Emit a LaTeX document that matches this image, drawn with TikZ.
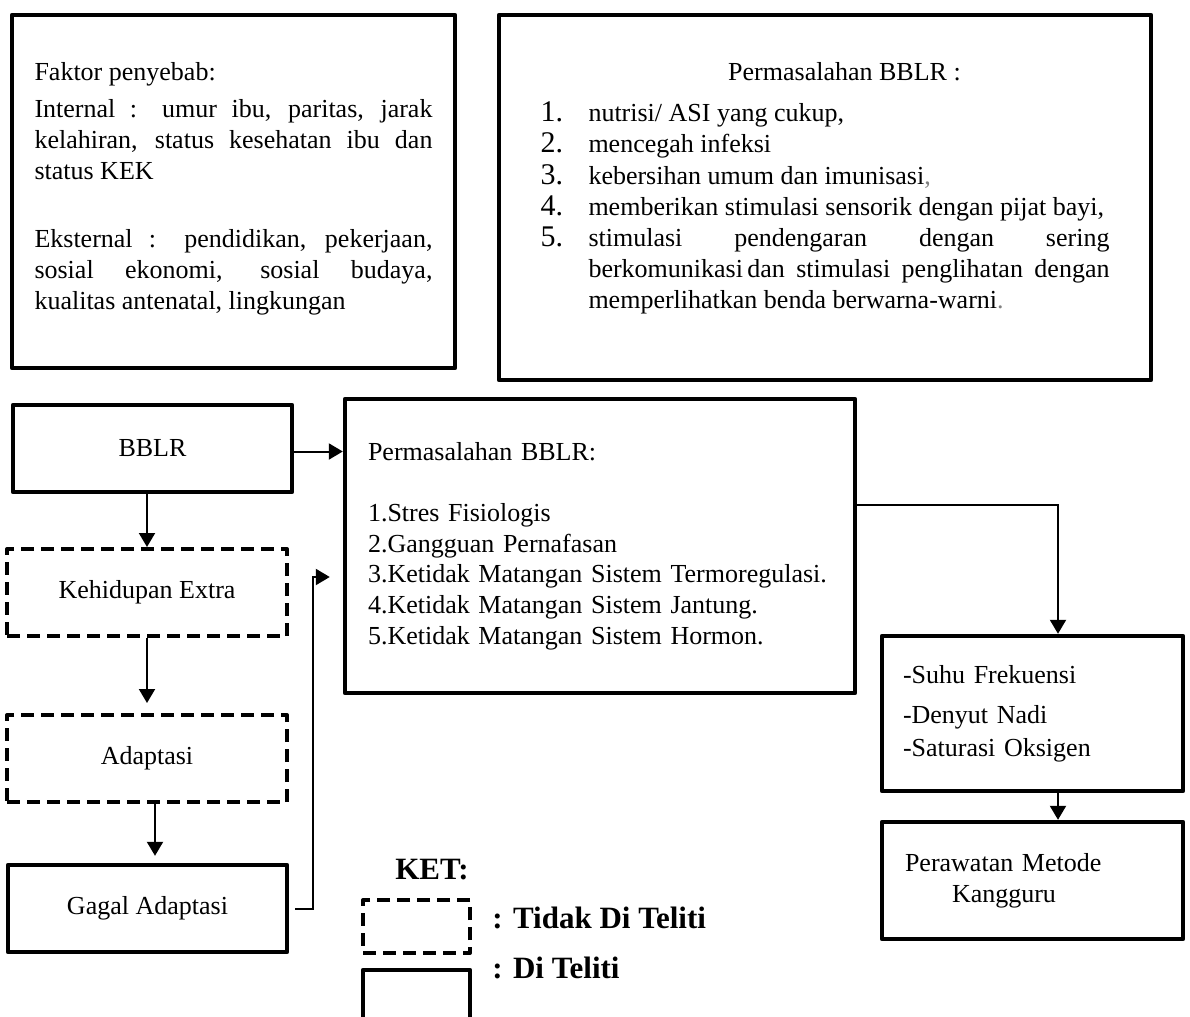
\documentclass[tikz,border=0pt]{standalone}
\usepackage{fontspec}
\setmainfont{Liberation Serif}
\usetikzlibrary{arrows.meta}
\setlength{\parindent}{0pt}
\newcommand{\butir}[2]{\par\hangindent=24pt\hangafter=1\makebox[24pt][l]{\fontsize{15}{15}\selectfont #1}#2}

\begin{document}
\begin{tikzpicture}[x=0.5pt,y=-0.5pt,
	kotak/.style={draw,line width=2.2pt,line join=round,inner ysep=2pt,font=\fontsize{13}{15.5}\selectfont},
	putus/.style={kotak,line width=2pt,dash pattern=on 6.5pt off 3.5pt},
	panah/.style={line width=1pt,-{Triangle[width=8pt,length=7pt]}},
	ket/.style={inner sep=0pt,anchor=west,font=\bfseries\fontsize{15.5}{18}\selectfont}]
  %\path[draw,red] (0,0) rectangle (1190,1017);
\useasboundingbox (0,0) rectangle (1190,1017);

\node[kotak,minimum width=221.5pt,minimum height=176.5pt,text width=199pt,inner xsep=11.25pt,align=justify] (faktor) at (233.5,191.5) {Faktor penyebab:\par\vspace{3pt}
Internal : umur ibu, paritas, jarak\linebreak kelahiran, status kesehatan ibu dan\linebreak status KEK\par\vspace{18.5pt}
Eksternal : pendidikan, pekerjaan,\linebreak sosial ekonomi, sosial budaya,\linebreak kualitas antenatal, lingkungan\par\vspace{3pt}\hrule height 0pt};

\node[kotak,minimum width=326pt,minimum height=182.5pt,text width=284.5pt,inner xsep=20.75pt,align=justify,font=\fontsize{13}{15.6}\selectfont] (masalahA) at (825,197.5) {{\centering\hspace*{19.5pt}Permasalahan BBLR :\par}\vspace{5pt}
\butir{1.}{nutrisi/ ASI yang cukup,}
\butir{2.}{mencegah infeksi}
\butir{3.}{kebersihan umum dan imunisasi\textcolor{gray}{,}}
\butir{4.}{memberikan stimulasi sensorik dengan pijat bayi,}
\butir{5.}{stimulasi pendengaran dengan sering\linebreak berkomunikasi\,dan stimulasi penglihatan dengan\linebreak memperlihatkan benda berwarna-warni\textcolor{gray}{.}}\par\vspace{9pt}\hrule height 0pt};

\node[kotak,minimum width=139.5pt,minimum height=43.5pt] (bblr) at (152.5,448.5) {BBLR};
\node[kotak,minimum width=255pt,minimum height=147pt,text width=232pt,inner xsep=11.5pt,align=left,font=\fontsize{13}{15.35}\selectfont] (masalahB) at (600,546) {Permasalahan BBLR:\\[15.35pt]1.Stres Fisiologis\\2.Gangguan Pernafasan\\3.Ketidak Matangan Sistem Termoregulasi.\\4.Ketidak Matangan Sistem Jantung.\\5.Ketidak Matangan Sistem Hormon.};
\node[putus,minimum width=140pt,minimum height=43.5pt] (extra) at (147,592.5) {Kehidupan Extra};
\node[putus,minimum width=140pt,minimum height=43.5pt] (adaptasi) at (147,758.5) {Adaptasi};
\node[kotak,minimum width=139.5pt,minimum height=43.5pt] (gagal) at (147.5,908.5) {Gagal Adaptasi};

\node[kotak,minimum width=150.5pt,minimum height=77.5pt,text width=129.5pt,inner xsep=10.5pt,align=left] (suhu) at (1032.5,713.5) {-Suhu Frekuensi\\[4.5pt]-Denyut Nadi\\[1pt]-Saturasi Oksigen};
\node[kotak,minimum width=150.5pt,minimum height=58.5pt,text width=127.5pt,inner xsep=11.5pt,align=left] (rawat) at (1032.5,880.5) {Perawatan Metode\\\hspace*{23.5pt}Kangguru};

\coordinate (belok) at (313,577);
\coordinate (cabang) at (1058,505);
\draw[panah] ([yshift=-1.5pt]bblr.east) -- ([yshift=-1.5pt]bblr.east -| masalahB.west);
\draw[panah] (bblr.south -| extra.north) -- (extra.north);
\draw[panah,shorten >=5pt] (extra.south) -- (adaptasi.north);
\draw[panah,shorten >=3.5pt] ([xshift=4pt]adaptasi.south) -- ([xshift=4pt]adaptasi.south |- gagal.north);
\draw[panah,shorten <=3pt,shorten >=6.5pt] (gagal.east) -| (belok) -- (belok -| masalahB.west);
\draw[panah] (cabang -| masalahB.east) -| (cabang |- suhu.north);
\draw[panah] (cabang |- suhu.south) -- (cabang |- rawat.north);

\node[ket,anchor=center] (ketjudul) at (432,870) {KET:};
\node[putus,minimum width=53.5pt,minimum height=26.5pt] (ketputus) at (416.5,926.5) {};
\node[ket] (ketputusteks) at (492,918) {: Tidak Di Teliti};
\node[ket] (ketpenuhteks) at (492,968) {: Di Teliti};
\draw[line width=2.2pt,line join=round] (363,1017) |- (470,970) -- (470,1017);
\end{tikzpicture}
\end{document}
